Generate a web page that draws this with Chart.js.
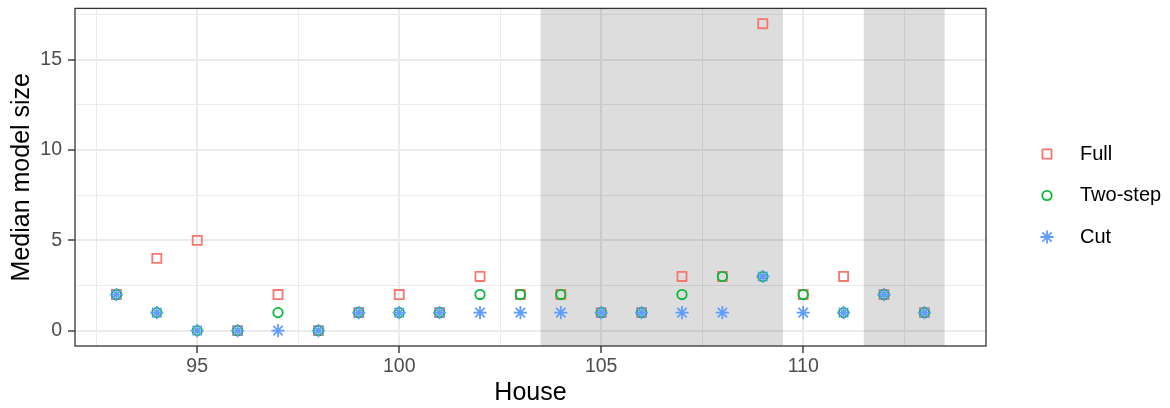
<!DOCTYPE html>
<html>
<head>
<meta charset="utf-8">
<script src="https://cdn.jsdelivr.net/npm/chart.js@4.4.1/dist/chart.umd.min.js"></script>
<style>
  html, body { margin: 0; padding: 0; background: #ffffff; }
  #wrap { width: 1170px; height: 408px; }
</style>
</head>
<body>
<div id="wrap"><canvas id="c" width="1170" height="408"></canvas></div>
<script>
// Median model size per House, three estimation methods
const houses      = [93, 94, 95, 96, 97, 98, 99, 100, 101, 102, 103, 104, 105, 106, 107, 108, 109, 110, 111, 112, 113];
const fullSize    = [2, 4, 5, 0, 2, 0, 1, 2, 1, 3, 2, 2, 1, 1, 3, 3, 17, 2, 3, 2, 1];
const twoStepSize = [2, 1, 0, 0, 1, 0, 1, 1, 1, 2, 2, 2, 1, 1, 2, 3, 3, 2, 1, 2, 1];
const cutSize     = [2, 1, 0, 0, 0, 0, 1, 1, 1, 1, 1, 1, 1, 1, 1, 1, 3, 1, 1, 2, 1];

const seriesNames = ['Full', 'Two-step', 'Cut'];

// Axis ticks (labelled majors) and unlabelled minor grid positions
const xMajorTicks = [95, 100, 105, 110];
const xMinorTicks = [92.5, 97.5, 102.5, 107.5, 112.5];
const yMajorTicks = [0, 5, 10, 15];
const yMinorTicks = [2.5, 7.5, 12.5, 17.5];

// Shaded House ranges
const shadedSpans = [[103.5, 109.5], [111.5, 113.5]];

const FONT = "'Liberation Sans', Arial, Helvetica, sans-serif";
const GRID = '#EBEBEB';
const DARK = '#333333';
const STROKE = 1.8;

const toPoints = vals => houses.map((h, i) => ({ x: h, y: vals[i] }));

const seriesStyles = [
  { color: '#F8766D', pointStyle: 'rect',   radius: 6.4 },
  { color: '#00BA38', pointStyle: 'circle', radius: 4.7 },
  { color: '#619CFF', pointStyle: 'star',   radius: 6.6 }
];
const seriesValues = [fullSize, twoStepSize, cutSize];

const datasets = seriesNames.map((name, i) => ({
  label: name,
  data: toPoints(seriesValues[i]),
  pointStyle: seriesStyles[i].pointStyle,
  pointRadius: seriesStyles[i].radius,
  pointHoverRadius: seriesStyles[i].radius,
  borderColor: seriesStyles[i].color,
  backgroundColor: 'rgba(0,0,0,0)',
  pointBorderWidth: STROKE,
  borderWidth: STROKE,
  // later series sit on top of earlier ones
  order: seriesNames.length - 1 - i
}));

const shadePlugin = {
  id: 'shade',
  beforeDatasetsDraw(chart) {
    const { ctx, chartArea: a, scales: { x } } = chart;
    ctx.save();
    ctx.beginPath();
    ctx.rect(a.left, a.top, a.right - a.left, a.bottom - a.top);
    ctx.clip();
    ctx.fillStyle = 'rgba(0,0,0,0.135)';
    shadedSpans.forEach(([s, e]) => {
      const x0 = x.getPixelForValue(s), x1 = x.getPixelForValue(e);
      ctx.fillRect(x0, a.top, x1 - x0, a.bottom - a.top);
    });
    ctx.restore();
  }
};

const borderPlugin = {
  id: 'panelBorder',
  afterDatasetsDraw(chart) {
    const { ctx, chartArea: a } = chart;
    ctx.save();
    ctx.strokeStyle = DARK;
    ctx.lineWidth = 1.3;
    ctx.strokeRect(a.left, a.top, a.right - a.left, a.bottom - a.top);
    ctx.restore();
  }
};

const legendPlugin = {
  id: 'sideLegend',
  afterDraw(chart) {
    const { ctx } = chart;
    const symX = 1047, textX = 1080, y0 = 154, step = 41.5;
    ctx.save();
    chart.data.datasets.forEach((ds, i) => {
      const y = y0 + i * step;
      ctx.strokeStyle = ds.borderColor;
      ctx.fillStyle = 'rgba(0,0,0,0)';
      ctx.lineWidth = STROKE;
      Chart.helpers.drawPoint(ctx, {
        pointStyle: ds.pointStyle, radius: ds.pointRadius, rotation: 0, borderWidth: STROKE
      }, symX, y);
      ctx.fillStyle = '#000000';
      ctx.font = `20px ${FONT}`;
      ctx.textAlign = 'left';
      ctx.textBaseline = 'middle';
      ctx.fillText(ds.label, textX, y);
    });
    ctx.restore();
  }
};

const isMajor = (list, v) => list.some(t => Math.abs(t - v) < 1e-9);

new Chart(document.getElementById('c'), {
  type: 'scatter',
  data: { datasets },
  plugins: [shadePlugin, borderPlugin, legendPlugin],
  options: {
    responsive: false,
    devicePixelRatio: 1,
    animation: false,
    events: [],
    layout: { padding: { left: 0, right: 184, top: 7, bottom: 0 } },
    plugins: { legend: { display: false }, tooltip: { enabled: false } },
    scales: {
      x: {
        type: 'linear',
        min: 91.975,
        max: 114.525,
        afterBuildTicks(scale) {
          scale.ticks = [...xMajorTicks, ...xMinorTicks].sort((a, b) => a - b).map(v => ({ value: v }));
        },
        afterFit(scale) {
          scale.height = 62;
          scale.paddingLeft = 0;
          scale.paddingRight = 0;
        },
        border: { display: false },
        grid: {
          color: GRID,
          lineWidth: c => isMajor(xMajorTicks, c.tick.value) ? 2 : 1,
          tickColor: c => isMajor(xMajorTicks, c.tick.value) ? DARK : 'rgba(0,0,0,0)',
          tickWidth: 1.4,
          tickLength: 7,
          drawTicks: true
        },
        ticks: {
          autoSkip: false,
          maxRotation: 0,
          padding: 2,
          color: '#4D4D4D',
          font: { family: FONT, size: 19.5 },
          callback: v => isMajor(xMajorTicks, v) ? String(v) : ''
        },
        title: {
          display: true,
          text: 'House',
          color: '#000000',
          font: { family: FONT, size: 25 },
          padding: { top: 0, bottom: 0 }
        }
      },
      y: {
        type: 'linear',
        min: -0.85,
        max: 17.85,
        afterBuildTicks(scale) {
          scale.ticks = [...yMajorTicks, ...yMinorTicks].sort((a, b) => a - b).map(v => ({ value: v }));
        },
        afterFit(scale) {
          scale.width = 75;
          scale.paddingTop = 0;
          scale.paddingBottom = 0;
        },
        border: { display: false },
        grid: {
          color: GRID,
          lineWidth: c => isMajor(yMajorTicks, c.tick.value) ? 2 : 1,
          tickColor: c => isMajor(yMajorTicks, c.tick.value) ? DARK : 'rgba(0,0,0,0)',
          tickWidth: 1.4,
          tickLength: 7,
          drawTicks: true
        },
        ticks: {
          autoSkip: false,
          padding: 6,
          color: '#4D4D4D',
          font: { family: FONT, size: 19.5 },
          callback: v => isMajor(yMajorTicks, v) ? String(v) : ''
        },
        title: {
          display: true,
          text: 'Median model size',
          color: '#000000',
          font: { family: FONT, size: 25 },
          padding: { top: 7.5, bottom: 0 }
        }
      }
    }
  }
});
</script>
</body>
</html>
